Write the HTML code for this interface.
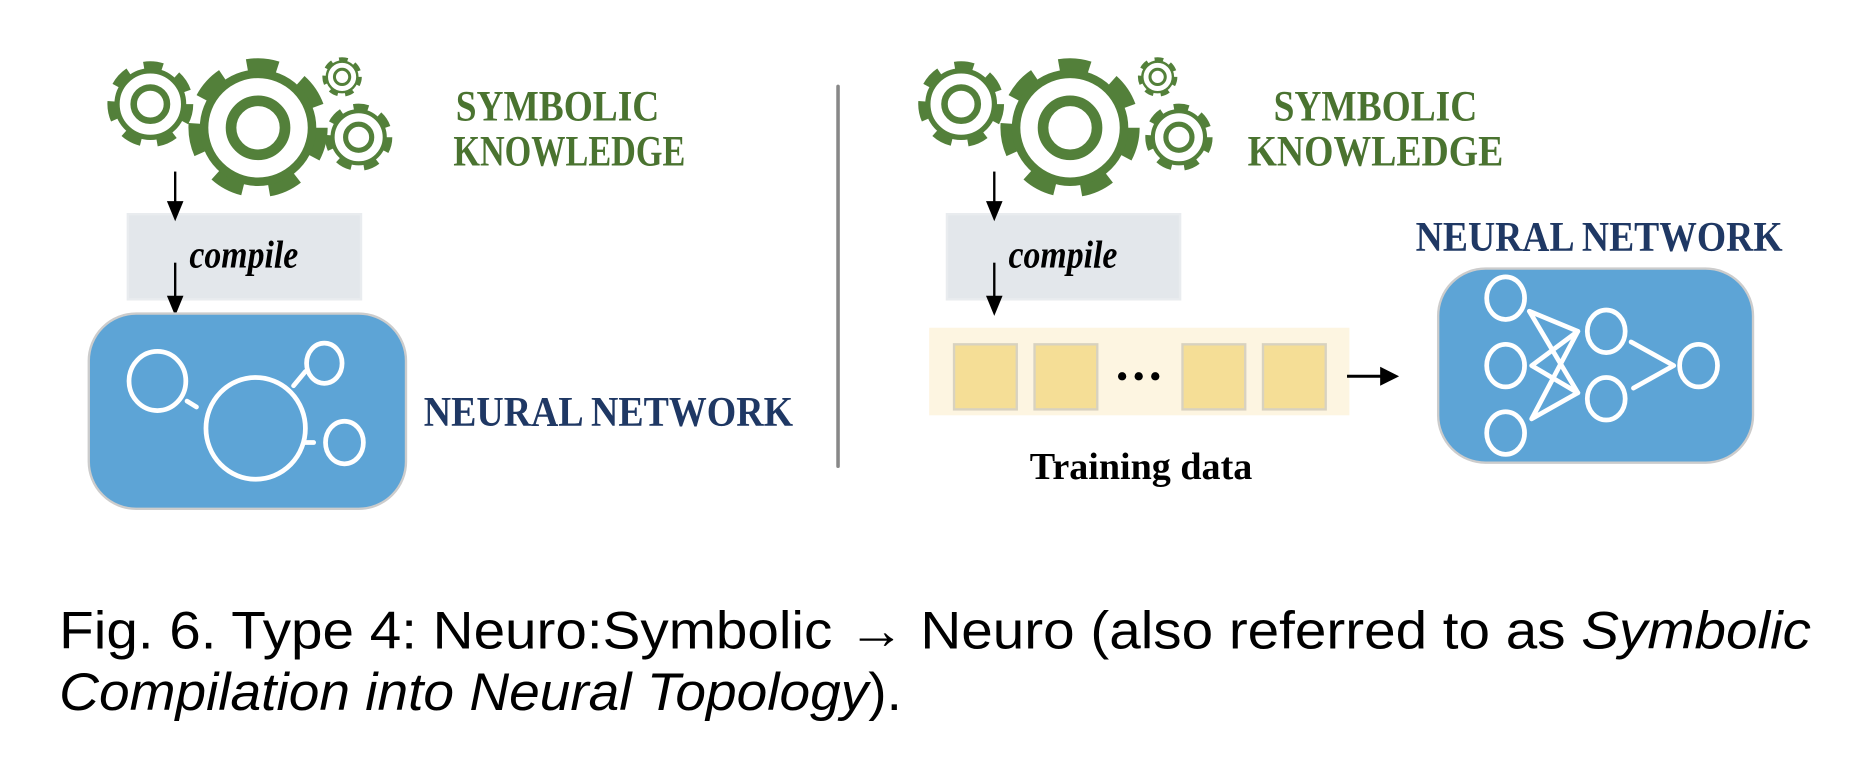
<!DOCTYPE html>
<html><head><meta charset="utf-8"><style>
html,body{margin:0;padding:0;background:#fff;}
svg{display:block;}
</style></head><body>
<svg width="1856" height="762" viewBox="0 0 1568 644" preserveAspectRatio="none" xmlns="http://www.w3.org/2000/svg">
<defs>
<g id="gear">
  <circle r="0.86" fill="none" stroke="#53803a" stroke-width="0.24" stroke-dasharray="0.42 0.36"/>
  <circle r="0.76" fill="none" stroke="#53803a" stroke-width="0.12"/>
  <circle r="0.38" fill="none" stroke="#53803a" stroke-width="0.15"/>
</g>
</defs>

<!-- LEFT -->
<use href="#gear" transform="translate(127,88) scale(37)"/>
<use href="#gear" transform="translate(218,108) scale(60)"/>
<use href="#gear" transform="translate(289,65) scale(17)"/>
<use href="#gear" transform="translate(303,116) scale(29)"/>
<g font-family="Liberation Serif, serif" font-weight="bold" fill="#4a7330" font-size="37">
<text x="385" y="102" textLength="172" lengthAdjust="spacingAndGlyphs">SYMBOLIC</text>
<text x="383" y="140" textLength="196" lengthAdjust="spacingAndGlyphs">KNOWLEDGE</text>
</g>
<rect x="108" y="181" width="197" height="72" fill="#e3e7eb" stroke="#e9ecef" stroke-width="2"/>
<text x="160" y="226" font-family="Liberation Serif, serif" font-style="italic" font-weight="bold" font-size="33" fill="#000" textLength="92" lengthAdjust="spacingAndGlyphs">compile</text>
<line x1="148" y1="145" x2="148" y2="172" stroke="#000" stroke-width="2"/>
<polygon points="141,170 155,170 148,187" fill="#000"/>
<line x1="148" y1="222" x2="148" y2="252" stroke="#000" stroke-width="2"/>
<polygon points="141,250 155,250 148,267" fill="#000"/>
<rect x="75" y="265" width="268" height="165" rx="40" fill="#5da4d6" stroke="#ccc" stroke-width="2"/>
<g fill="none" stroke="#fff" stroke-width="4" stroke-linecap="round">
<ellipse cx="133" cy="322" rx="24" ry="25"/>
<ellipse cx="216" cy="362" rx="42" ry="43"/>
<ellipse cx="274" cy="307" rx="15" ry="17"/>
<ellipse cx="291" cy="374" rx="16" ry="18"/>
<line x1="158" y1="339" x2="166" y2="344"/>
<line x1="248" y1="326" x2="258" y2="314"/>
<line x1="257" y1="374" x2="265" y2="374"/>
</g>
<text x="358" y="360" font-family="Liberation Serif, serif" font-weight="bold" font-size="36" fill="#1f3864" textLength="312" lengthAdjust="spacingAndGlyphs">NEURAL NETWORK</text>

<line x1="708" y1="73" x2="708" y2="394" stroke="#888" stroke-width="3" stroke-linecap="round"/>

<!-- RIGHT -->
<use href="#gear" transform="translate(812,88) scale(37)"/>
<use href="#gear" transform="translate(904,108) scale(60)"/>
<use href="#gear" transform="translate(978,65) scale(17)"/>
<use href="#gear" transform="translate(996,116) scale(29)"/>
<g font-family="Liberation Serif, serif" font-weight="bold" fill="#4a7330" font-size="37">
<text x="1076" y="102" textLength="172" lengthAdjust="spacingAndGlyphs">SYMBOLIC</text>
<text x="1054" y="140" textLength="216" lengthAdjust="spacingAndGlyphs">KNOWLEDGE</text>
</g>
<rect x="800" y="181" width="197" height="72" fill="#e3e7eb" stroke="#e9ecef" stroke-width="2"/>
<text x="852" y="226" font-family="Liberation Serif, serif" font-style="italic" font-weight="bold" font-size="33" fill="#000" textLength="92" lengthAdjust="spacingAndGlyphs">compile</text>
<line x1="840" y1="145" x2="840" y2="172" stroke="#000" stroke-width="2"/>
<polygon points="833,170 847,170 840,187" fill="#000"/>
<line x1="840" y1="222" x2="840" y2="252" stroke="#000" stroke-width="2"/>
<polygon points="833,250 847,250 840,267" fill="#000"/>

<rect x="785" y="277" width="355" height="74" fill="#fdf5e1"/>
<g fill="#f5de96" stroke="#d8d2c0" stroke-width="2">
<rect x="806" y="291" width="53" height="55"/>
<rect x="874" y="291" width="53" height="55"/>
<rect x="999" y="291" width="53" height="55"/>
<rect x="1067" y="291" width="53" height="55"/>
</g>
<circle cx="948" cy="318" r="3.5" fill="#000"/>
<circle cx="962" cy="318" r="3.5" fill="#000"/>
<circle cx="976" cy="318" r="3.5" fill="#000"/>
<line x1="1138" y1="318" x2="1168" y2="318" stroke="#000" stroke-width="2.5"/>
<polygon points="1166,310 1182,318 1166,326" fill="#000"/>
<text x="870" y="405" font-family="Liberation Serif, serif" font-weight="bold" font-size="32" fill="#000" textLength="188" lengthAdjust="spacingAndGlyphs">Training data</text>

<text x="1196" y="212" font-family="Liberation Serif, serif" font-weight="bold" font-size="36" fill="#1f3864" textLength="310" lengthAdjust="spacingAndGlyphs">NEURAL NETWORK</text>
<rect x="1215" y="227" width="266" height="164" rx="40" fill="#5da4d6" stroke="#ccc" stroke-width="2"/>
<g fill="none" stroke="#fff" stroke-width="4" stroke-linecap="round" stroke-linejoin="round">
<ellipse cx="1272" cy="252" rx="16" ry="18"/>
<ellipse cx="1272" cy="309" rx="16" ry="18"/>
<ellipse cx="1272" cy="366" rx="16" ry="18"/>
<ellipse cx="1357" cy="280" rx="16" ry="18"/>
<ellipse cx="1357" cy="337" rx="16" ry="18"/>
<ellipse cx="1435" cy="309" rx="16" ry="18"/>
<polyline points="1292,263 1333,280 1294,354 1333,332 1292,263"/>
<polyline points="1333,280 1294,309 1333,332"/>
<polyline points="1378,289 1414,309 1380,328"/>
</g>

<!-- caption -->
<g font-family="Liberation Sans, sans-serif" font-size="45" fill="#000">
<text x="50" y="548" textLength="1480" lengthAdjust="spacingAndGlyphs">Fig. 6. Type 4: Neuro:Symbolic → Neuro (also referred to as <tspan font-style="italic">Symbolic</tspan></text>
<text x="50" y="600" textLength="712" lengthAdjust="spacingAndGlyphs"><tspan font-style="italic">Compilation into Neural Topology</tspan>).</text>
</g>
</svg>
</body></html>
